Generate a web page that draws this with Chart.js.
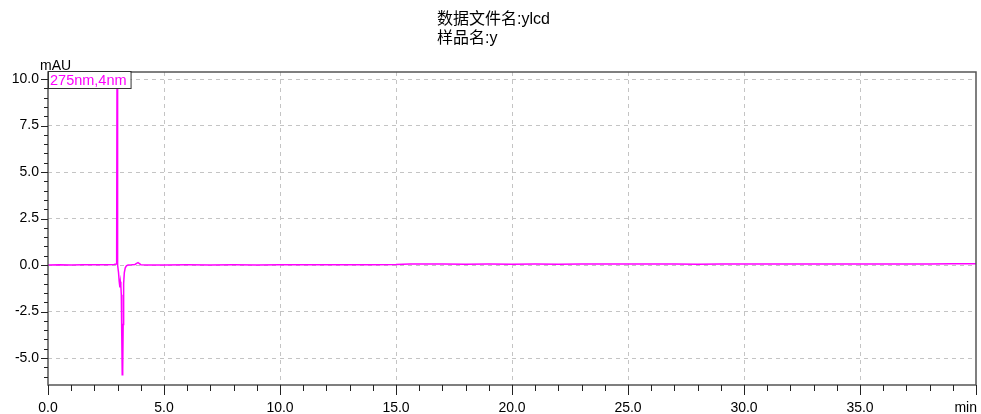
<!DOCTYPE html>
<html>
<head>
<meta charset="utf-8">
<script src="https://cdn.jsdelivr.net/npm/chart.js@4/dist/chart.umd.min.js"></script>
<style>
  html, body { margin: 0; padding: 0; background: #fff; }
  canvas { display: block; }
</style>
</head>
<body>
<canvas id="chrom" width="981" height="414"></canvas>
<script>
// Chromatogram header text
const titleLines = ['数据文件名:ylcd', '样品名:y'];
const channelLabel = '275nm,4nm';
const yUnit = 'mAU';
const xUnit = 'min';

// Retention time (min) and detector response (mAU)
const times = [
  0.0, 0.5, 1.0, 1.5, 2.0, 2.5, 2.85, 2.94, 2.96, 2.975, 2.99, 3.01, 3.04, 3.07,
  3.10, 3.12, 3.14, 3.16, 3.18, 3.20, 3.22, 3.24, 3.26, 3.29, 3.33, 3.38, 3.45,
  3.60, 3.75, 3.82, 3.88, 3.94, 4.0, 4.3, 5, 6, 7, 8, 9, 10, 11, 12, 13, 14, 15,
  15.6, 16, 17, 18, 19, 20, 21, 22, 23, 24, 25, 26, 27, 28, 29, 30, 31, 32, 33,
  34, 35, 36, 37, 38, 39, 40
];
const response = [
  0.00, 0.01, 0.00, 0.01, 0.02, 0.02, 0.03, 0.05, 1.0, 10.4, 2.0, 0.0, -0.4, -0.9,
  -1.2, -0.9, -1.1, -1.6, -3.8, -5.9, -5.6, -3.2, -1.0, -0.4, -0.15, -0.04, 0.00,
  0.01, 0.03, 0.09, 0.13, 0.08, 0.02, 0.00, 0.00, 0.01, 0.00, 0.01, 0.00, 0.02, 0.01,
  0.02, 0.02, 0.02, 0.03, 0.06, 0.05, 0.05, 0.04, 0.05, 0.04, 0.05, 0.04, 0.05, 0.05,
  0.06, 0.05, 0.05, 0.04, 0.05, 0.05, 0.06, 0.05, 0.06, 0.06, 0.05, 0.06, 0.06, 0.06,
  0.07, 0.07
];

// Axis ticks: labelled majors and unlabelled minors
const xMajorTicks = [0, 5, 10, 15, 20, 25, 30, 35, 40];
const xMinorStep = 1;
const yMajorTicks = [-5, -2.5, 0, 2.5, 5, 7.5, 10];
const yMinorStep = 0.5;

const X_MIN = 0, X_MAX = 40, Y_MIN = -6.45, Y_MAX = 10.38;
const FONT = '"Liberation Sans", Arial, "Noto Sans CJK SC", sans-serif';

function buildTicks(min, max, step, majors) {
  const out = [];
  const start = Math.ceil(min / step) * step;
  for (let v = start; v <= max + 1e-9; v += step) {
    const val = Math.round(v * 1000) / 1000;
    out.push({ value: val, major: majors.some(m => Math.abs(m - val) < 1e-6) });
  }
  return out;
}

const xTicks = buildTicks(X_MIN, X_MAX, xMinorStep, xMajorTicks);
const yTicks = buildTicks(Y_MIN, Y_MAX, yMinorStep, yMajorTicks);

function isMajor(scale, value) {
  const list = scale.axis === 'x' ? xMajorTicks : yMajorTicks;
  return list.some(m => Math.abs(m - value) < 1e-6);
}

// Frame, tick marks, header and channel box
const decorations = {
  id: 'decorations',
  afterDraw(chart) {
    const { ctx, chartArea: a, scales } = chart;
    ctx.save();

    // plot frame
    ctx.strokeStyle = '#555';
    ctx.lineWidth = 1.5;
    ctx.strokeRect(a.left, a.top, a.right - a.left, a.bottom - a.top);

    // tick marks
    ctx.lineWidth = 1;
    ctx.strokeStyle = '#222';
    ctx.beginPath();
    xTicks.forEach(t => {
      const px = Math.round(scales.x.getPixelForValue(t.value)) + 0.5;
      ctx.moveTo(px, a.bottom);
      ctx.lineTo(px, a.bottom + (t.major ? 10 : 6));
    });
    yTicks.forEach(t => {
      const py = Math.round(scales.y.getPixelForValue(t.value)) + 0.5;
      ctx.moveTo(a.left, py);
      ctx.lineTo(a.left - (t.major ? 7 : 4), py);
    });
    ctx.stroke();

    // header
    ctx.fillStyle = '#000';
    ctx.font = '16px ' + FONT;
    ctx.textAlign = 'left';
    ctx.textBaseline = 'middle';
    ctx.fillText(titleLines[0], 437, 20);
    ctx.fillText(titleLines[1], 437, 39);

    // axis units
    ctx.font = '14px ' + FONT;
    ctx.textBaseline = 'alphabetic';
    ctx.fillText(yUnit, 40, 70);
    ctx.textAlign = 'right';
    ctx.fillText(xUnit, 977, 412);

    // channel box
    ctx.font = '14.5px ' + FONT;
    const tw = ctx.measureText(channelLabel).width;
    const bx = a.left, by = a.top - 1, bw = tw + 6, bh = 17;
    ctx.fillStyle = '#fff';
    ctx.fillRect(bx, by, bw, bh);
    ctx.strokeStyle = '#333';
    ctx.lineWidth = 1;
    ctx.strokeRect(bx + 0.5, by + 0.5, bw, bh);
    ctx.fillStyle = '#ff00ff';
    ctx.textAlign = 'left';
    ctx.textBaseline = 'middle';
    ctx.fillText(channelLabel, bx + 2, by + bh / 2 + 1);

    ctx.restore();
  }
};

new Chart(document.getElementById('chrom'), {
  type: 'line',
  data: {
    datasets: [{
      data: times.map((t, i) => ({ x: t, y: response[i] })),
      borderColor: '#ff00ff',
      borderWidth: 1.5,
      pointRadius: 0,
      tension: 0,
      fill: false
    }]
  },
  options: {
    responsive: false,
    animation: false,
    devicePixelRatio: 1,
    layout: { autoPadding: false, padding: { top: 72, right: 5, left: 0, bottom: 0 } },
    plugins: { legend: { display: false }, title: { display: false }, tooltip: { enabled: false } },
    scales: {
      x: {
        type: 'linear',
        min: X_MIN,
        max: X_MAX,
        afterBuildTicks: s => { s.ticks = xTicks.map(t => ({ value: t.value })); },
        afterFit: s => { s.height = 29; s.paddingLeft = 0; s.paddingRight = 0; },
        grid: {
          drawTicks: false,
          color: c => (c.tick && isMajor(c.scale, c.tick.value) && c.tick.value > X_MIN && c.tick.value < X_MAX) ? '#c4c4c4' : 'rgba(0,0,0,0)',
          lineWidth: 1
        },
        border: { display: false, dash: [4, 4] },
        ticks: {
          autoSkip: false,
          maxRotation: 0,
          padding: 15,
          color: '#000',
          font: { family: FONT, size: 14 },
          callback: v => (xMajorTicks.includes(v) && v !== X_MAX) ? v.toFixed(1) : ''
        }
      },
      y: {
        type: 'linear',
        min: Y_MIN,
        max: Y_MAX,
        afterBuildTicks: s => { s.ticks = yTicks.map(t => ({ value: t.value })); },
        afterFit: s => { s.width = 48; s.paddingTop = 0; s.paddingBottom = 0; },
        grid: {
          drawTicks: false,
          color: c => (c.tick && isMajor(c.scale, c.tick.value)) ? '#c4c4c4' : 'rgba(0,0,0,0)',
          lineWidth: 1
        },
        border: { display: false, dash: [4, 4] },
        ticks: {
          autoSkip: false,
          padding: 9,
          color: '#000',
          font: { family: FONT, size: 14 },
          callback: v => yMajorTicks.some(m => Math.abs(m - v) < 1e-6) ? v.toFixed(1) : ''
        }
      }
    }
  },
  plugins: [decorations]
});
</script>
</body>
</html>
